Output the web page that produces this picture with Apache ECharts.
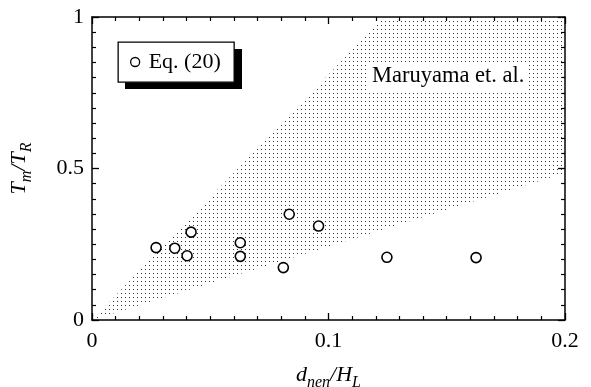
<!DOCTYPE html>
<html>
<head>
<meta charset="utf-8">
<script src="https://cdn.jsdelivr.net/npm/echarts@6/dist/echarts.min.js"></script>
<style>html,body{margin:0;padding:0;background:#fff;}#c{width:591px;height:387px;}</style>
</head>
<body>
<div id="c"></div>
<script>
// ---- data ----
var eqX = [0.0271, 0.0350, 0.0402, 0.0419, 0.0627, 0.0627, 0.0809, 0.0834, 0.0958, 0.1247, 0.1624];
var eqY = [0.239, 0.237, 0.212, 0.290, 0.255, 0.210, 0.173, 0.349, 0.310, 0.207, 0.206];
// Maruyama et. al. region (polygon vertices)
var bandX = [0, 0.2, 0.2, 0.1235];
var bandY = [0, 0.485, 1, 1];
var xTickLabels = ['0', '0.1', '0.2'];
var yTickLabels = ['0', '0.5', '1'];
var seriesName = 'Eq. (20)';
var bandName = 'Maruyama et. al.';

// ---- dotted pattern ----
var pc = document.createElement('canvas');
pc.width = 4; pc.height = 4;
var pctx = pc.getContext('2d');
pctx.fillStyle = '#333';
pctx.fillRect(1, 1, 1, 1);
var pattern = { image: pc, repeat: 'repeat' };

var FONT = '"Liberation Serif", "Times New Roman", serif';
var chart = echarts.init(document.getElementById('c'));

var xFmt = function (v) { var i = Math.round(v / 0.1); return xTickLabels[i] !== undefined ? xTickLabels[i] : ''; };
var yFmt = function (v) { var i = Math.round(v / 0.5); return yTickLabels[i] !== undefined ? yTickLabels[i] : ''; };

var axisCommon = {
  type: 'value',
  axisLine: { show: true, onZero: false, lineStyle: { color: '#000', width: 1.5 } },
  axisTick: { show: true, inside: true, length: 7, lineStyle: { color: '#000', width: 1.3 } },
  minorTick: { show: true, splitNumber: 10, length: 4, lineStyle: { color: '#000', width: 1.2 } },
  splitLine: { show: false }
};

chart.setOption({
  animation: false,
  backgroundColor: '#fff',
  grid: { left: 92, right: 26, top: 17, bottom: 67, containLabel: false, outerBoundsMode: 'none' },
  xAxis: [
    Object.assign({}, axisCommon, {
      min: 0, max: 0.2, interval: 0.1, position: 'bottom',
      axisLabel: { formatter: xFmt, color: '#000', fontFamily: FONT, fontSize: 22, margin: 10 },
      name: '{i|d}{s|nen}{i|/H}{s|L}',
      nameLocation: 'middle', nameGap: 40,
      nameTextStyle: {
        rich: {
          i: { fontFamily: FONT, fontStyle: 'italic', fontSize: 22, color: '#000', verticalAlign: 'bottom', lineHeight: 26 },
          s: { fontFamily: FONT, fontStyle: 'italic', fontSize: 16, color: '#000', verticalAlign: 'bottom', lineHeight: 26, padding: [0, 0, -5, 0] }
        }
      }
    }),
    Object.assign({}, axisCommon, {
      min: 0, max: 0.2, interval: 0.1, position: 'top',
      axisLabel: { show: false }
    })
  ],
  yAxis: [
    Object.assign({}, axisCommon, {
      min: 0, max: 1, interval: 0.5, position: 'left',
      axisLabel: { formatter: yFmt, color: '#000', fontFamily: FONT, fontSize: 22, margin: 8 },
      name: '{i|T}{s|m}{i|/T}{s|R}',
      nameLocation: 'middle', nameGap: 62, nameRotate: 90,
      nameTextStyle: {
        rich: {
          i: { fontFamily: FONT, fontStyle: 'italic', fontSize: 22, color: '#000', verticalAlign: 'bottom', lineHeight: 26 },
          s: { fontFamily: FONT, fontStyle: 'italic', fontSize: 16, color: '#000', verticalAlign: 'bottom', lineHeight: 26, padding: [0, 0, -5, 0] }
        }
      }
    }),
    Object.assign({}, axisCommon, {
      min: 0, max: 1, interval: 0.5, position: 'right',
      axisLabel: { show: false }
    })
  ],
  legend: {
    data: [{ name: seriesName, icon: 'circle' }],
    left: 130, top: 51, z: 20,
    padding: 0,
    itemWidth: 9, itemHeight: 9,
    itemStyle: { color: '#fff', borderColor: '#000', borderWidth: 1.3 },
    textStyle: { fontFamily: FONT, fontSize: 22, color: '#000', padding: [0, 0, 0, 4] }
  },
  graphic: [
    { type: 'rect', left: 125, top: 49, z: 10, shape: { width: 117, height: 40 }, style: { fill: '#000' } },
    { type: 'rect', left: 117.5, top: 41.5, z: 11, shape: { width: 116, height: 40 }, style: { fill: '#fff', stroke: '#000', lineWidth: 1.3 } },
    {
      type: 'text', left: 369, top: 63, z: 100,
      style: { text: bandName, font: '22.5px ' + FONT, fill: '#000', backgroundColor: '#fff', padding: [2, 3, 2, 3] }
    }
  ],
  series: [
    {
      type: 'custom', name: bandName,
      coordinateSystem: 'cartesian2d',
      clip: true, z: 1,
      data: bandX.map(function (x, i) { return [x, bandY[i]]; }),
      renderItem: function (params, api) {
        if (params.dataIndex !== 0) return null;
        var pts = bandX.map(function (x, i) { return api.coord([x, bandY[i]]); });
        return { type: 'polygon', shape: { points: pts }, style: { fill: pattern } };
      },
      silent: true
    },
    {
      type: 'scatter', name: seriesName, z: 5,
      symbol: 'circle', symbolSize: 10,
      itemStyle: { color: '#fff', borderColor: '#000', borderWidth: 1.6, opacity: 1 },
      data: eqX.map(function (x, i) { return [x, eqY[i]]; })
    }
  ]
});
</script>
</body>
</html>
